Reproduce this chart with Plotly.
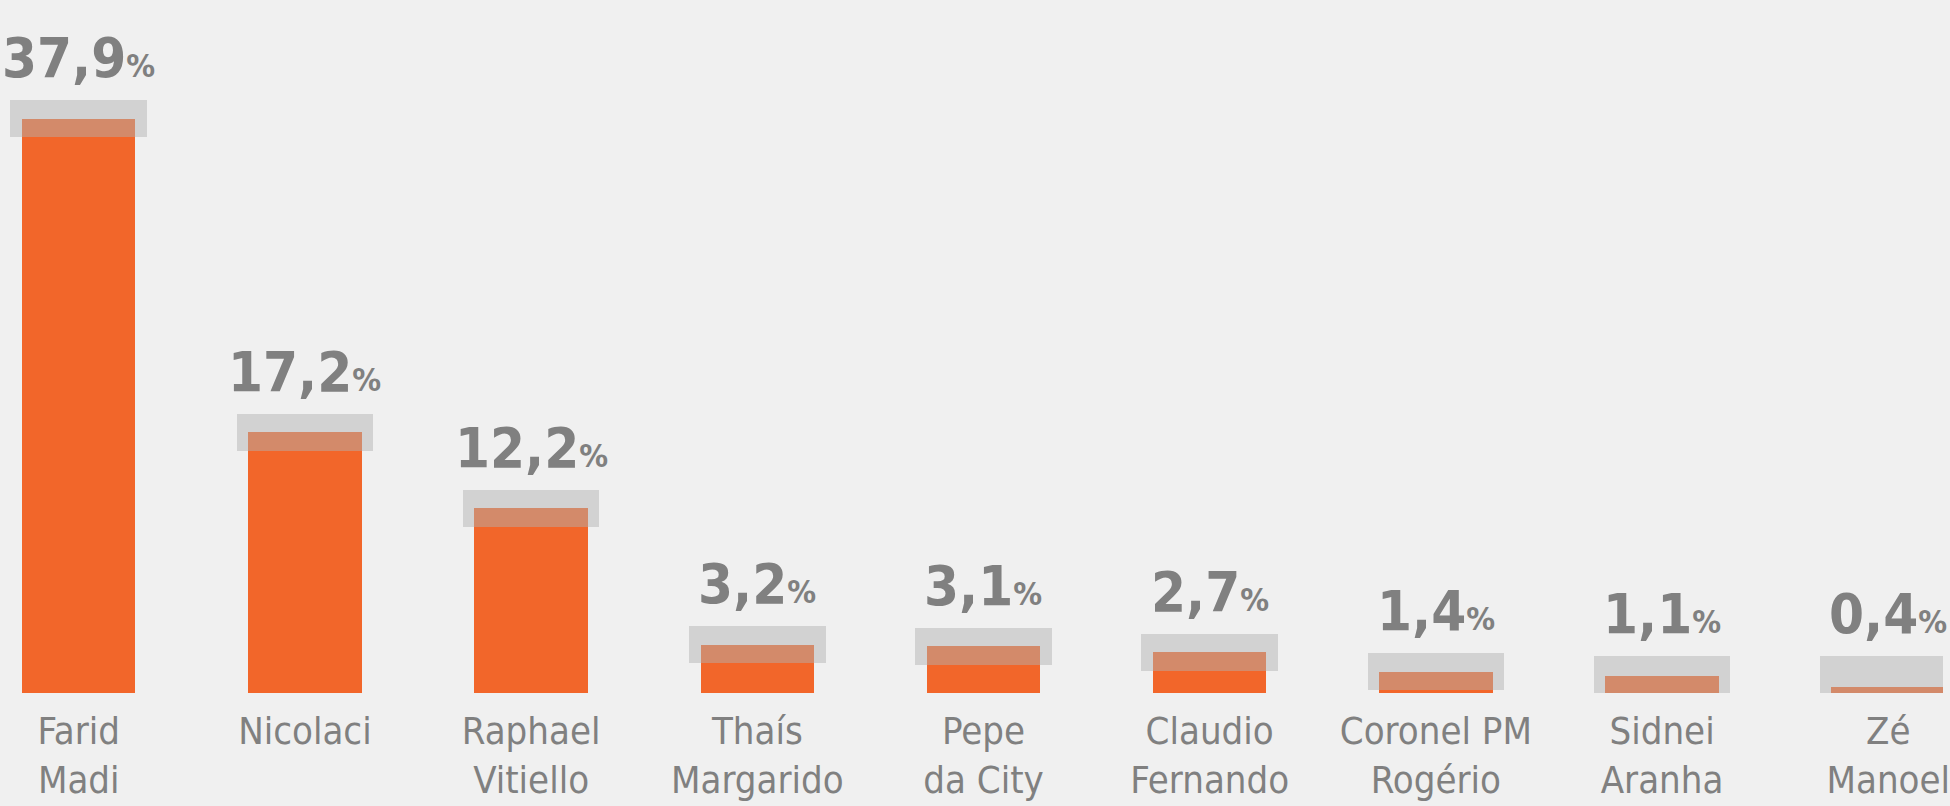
import plotly.graph_objects as go

# ---- data ----
candidates = ["Farid<br>Madi", "Nicolaci", "Raphael<br>Vitiello", "Thaís<br>Margarido",
              "Pepe<br>da City", "Claudio<br>Fernando", "Coronel PM<br>Rogério",
              "Sidnei<br>Aranha", "Zé<br>Manoel"]
values = [37.9, 17.2, 12.2, 3.2, 3.1, 2.7, 1.4, 1.1, 0.4]
value_labels = ["37,9", "17,2", "12,2", "3,2", "3,1", "2,7", "1,4", "1,1", "0,4"]
margin = 1.22  # error margin (percentage points)

band_base = [max(0.0, v - margin) for v in values]
band_height = [2 * margin] * len(values)
band_top = [b + h for b, h in zip(band_base, band_height)]

ORANGE = "#F2662A"
GRAY_TXT = "#808080"
BG = "#F0F0F0"
FONT = "Liberation Sans Narrow, DejaVu Sans Condensed, Roboto Condensed, Roboto, sans-serif"

x = list(range(len(candidates)))

fig = go.Figure()
fig.add_trace(go.Bar(x=x, y=values, width=0.502, marker=dict(color=ORANGE, line=dict(width=0)),
                     hoverinfo="skip", showlegend=False))
fig.add_trace(go.Bar(x=x, y=band_height, base=band_base, width=0.604,
                     marker=dict(color="rgba(178,178,178,0.48)", line=dict(width=0)),
                     hoverinfo="skip", showlegend=False))

for xi, lab, top in zip(x, value_labels, band_top):
    fig.add_annotation(x=xi, y=top, yanchor="bottom", xanchor="center", showarrow=False,
                       text=f"<b>{lab}</b><span style='font-size:32px'><b>%</b></span>",
                       font=dict(family=FONT, size=56, color=GRAY_TXT), yshift=8)

fig.update_layout(
    width=1950, height=806,
    margin=dict(l=0, r=0, t=0, b=113),
    paper_bgcolor=BG, plot_bgcolor=BG,
    barmode="overlay", bargap=0,
    xaxis=dict(range=[-0.348, 8.242], tickmode="array", tickvals=x, ticktext=candidates,
               showgrid=False, zeroline=False, showline=False, ticks="",
               ticklabeloverflow="allow", ticklabelstandoff=12,
               tickfont=dict(family=FONT, size=38, color=GRAY_TXT)),
    yaxis=dict(range=[0, 45.74], visible=False, showgrid=False, zeroline=False),
)

fig.write_html("out.html", config={"displayModeBar": False},
               post_script="document.body.style.margin='0';document.body.style.background='#F0F0F0';")
